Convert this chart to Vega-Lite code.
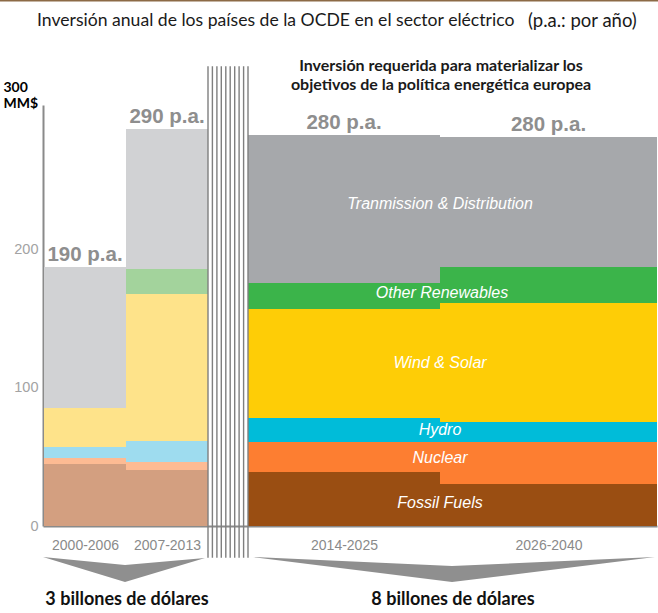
{
  "$schema": "https://vega.github.io/schema/vega-lite/v6.json",
  "width": 614,
  "height": 421,
  "autosize": {"type": "none"},
  "padding": {"left": 43, "top": 105, "right": 1, "bottom": 87},
  "background": "white",
  "title": {
    "text": "Inversión anual de los países de la OCDE en el sector eléctrico",
    "anchor": "start",
    "frame": "group",
    "dx": -6,
    "dy": 40,
    "font": "Lato",
    "fontSize": 17.6,
    "fontWeight": "normal",
    "color": "#1a1a1a",
    "offset": 10
  },
  "config": {"view": {"stroke": null}},
  "datasets": {
    "segmentos": [
      {"periodo": "2000-2006", "fase": "histórico", "tipo": "Fossil Fuels", "orden": 1, "valor": 44.9, "inicio": 1, "fin": 83},
      {"periodo": "2000-2006", "fase": "histórico", "tipo": "Nuclear", "orden": 2, "valor": 4.3, "inicio": 1, "fin": 83},
      {"periodo": "2000-2006", "fase": "histórico", "tipo": "Hydro", "orden": 3, "valor": 8.0, "inicio": 1, "fin": 83},
      {"periodo": "2000-2006", "fase": "histórico", "tipo": "Wind & Solar", "orden": 4, "valor": 28.3, "inicio": 1, "fin": 83},
      {"periodo": "2000-2006", "fase": "histórico", "tipo": "Other Renewables", "orden": 5, "valor": 0, "inicio": 1, "fin": 83},
      {"periodo": "2000-2006", "fase": "histórico", "tipo": "Transmission & Distribution", "orden": 6, "valor": 102.2, "inicio": 1, "fin": 83},
      {"periodo": "2007-2013", "fase": "histórico", "tipo": "Fossil Fuels", "orden": 1, "valor": 40.6, "inicio": 83, "fin": 165},
      {"periodo": "2007-2013", "fase": "histórico", "tipo": "Nuclear", "orden": 2, "valor": 5.8, "inicio": 83, "fin": 165},
      {"periodo": "2007-2013", "fase": "histórico", "tipo": "Hydro", "orden": 3, "valor": 15.2, "inicio": 83, "fin": 165},
      {"periodo": "2007-2013", "fase": "histórico", "tipo": "Wind & Solar", "orden": 4, "valor": 106.5, "inicio": 83, "fin": 165},
      {"periodo": "2007-2013", "fase": "histórico", "tipo": "Other Renewables", "orden": 5, "valor": 18.1, "inicio": 83, "fin": 165},
      {"periodo": "2007-2013", "fase": "histórico", "tipo": "Transmission & Distribution", "orden": 6, "valor": 101.4, "inicio": 83, "fin": 165},
      {"periodo": "2014-2025", "fase": "requerido", "tipo": "Fossil Fuels", "orden": 1, "valor": 39.1, "inicio": 205, "fin": 397},
      {"periodo": "2014-2025", "fase": "requerido", "tipo": "Nuclear", "orden": 2, "valor": 21.7, "inicio": 205, "fin": 397},
      {"periodo": "2014-2025", "fase": "requerido", "tipo": "Hydro", "orden": 3, "valor": 17.4, "inicio": 205, "fin": 397},
      {"periodo": "2014-2025", "fase": "requerido", "tipo": "Wind & Solar", "orden": 4, "valor": 79.0, "inicio": 205, "fin": 397},
      {"periodo": "2014-2025", "fase": "requerido", "tipo": "Other Renewables", "orden": 5, "valor": 18.8, "inicio": 205, "fin": 397},
      {"periodo": "2014-2025", "fase": "requerido", "tipo": "Transmission & Distribution", "orden": 6, "valor": 107.2, "inicio": 205, "fin": 397},
      {"periodo": "2026-2040", "fase": "requerido", "tipo": "Fossil Fuels", "orden": 1, "valor": 30.4, "inicio": 397, "fin": 614},
      {"periodo": "2026-2040", "fase": "requerido", "tipo": "Nuclear", "orden": 2, "valor": 30.4, "inicio": 397, "fin": 614},
      {"periodo": "2026-2040", "fase": "requerido", "tipo": "Hydro", "orden": 3, "valor": 14.5, "inicio": 397, "fin": 614},
      {"periodo": "2026-2040", "fase": "requerido", "tipo": "Wind & Solar", "orden": 4, "valor": 86.2, "inicio": 397, "fin": 614},
      {"periodo": "2026-2040", "fase": "requerido", "tipo": "Other Renewables", "orden": 5, "valor": 26.1, "inicio": 397, "fin": 614},
      {"periodo": "2026-2040", "fase": "requerido", "tipo": "Transmission & Distribution", "orden": 6, "valor": 94.2, "inicio": 397, "fin": 614}
    ],
    "periodos": [
      {"periodo": "2000-2006", "medio": 42, "etiqueta": "190 p.a."},
      {"periodo": "2007-2013", "medio": 124, "etiqueta": "290 p.a."},
      {"periodo": "2014-2025", "medio": 301, "etiqueta": "280 p.a."},
      {"periodo": "2026-2040", "medio": 505.5, "etiqueta": "280 p.a."}
    ],
    "etiquetas": [
      {"etiqueta": "Tranmission & Distribution", "x": 397, "y": 233},
      {"etiqueta": "Other Renewables", "x": 399, "y": 168.8},
      {"etiqueta": "Wind & Solar", "x": 397, "y": 118},
      {"etiqueta": "Hydro", "x": 397, "y": 69.6},
      {"etiqueta": "Nuclear", "x": 397, "y": 49.3},
      {"etiqueta": "Fossil Fuels", "x": 397, "y": 16.7}
    ],
    "separador": [
      {"x": 165}, {"x": 169.4}, {"x": 173.9}, {"x": 178.3}, {"x": 182.8},
      {"x": 187.2}, {"x": 191.7}, {"x": 196.1}, {"x": 200.6}, {"x": 205}
    ],
    "chevrones": [
      {"grupo": "A", "x": 0, "y": -22.5, "y2": -22.5},
      {"grupo": "A", "x": 82, "y": -28.3, "y2": -40.6},
      {"grupo": "A", "x": 162, "y": -23.2, "y2": -23.2},
      {"grupo": "B", "x": 210, "y": -22.5, "y2": -22.5},
      {"grupo": "B", "x": 409, "y": -29.0, "y2": -40.6},
      {"grupo": "B", "x": 612, "y": -22.5, "y2": -22.5}
    ],
    "subtitulo": [
      {"texto": "Inversión requerida para materializar los", "x": 398, "y": 333.3},
      {"texto": "objetivos de la política energética europea", "x": 398, "y": 319.5}
    ],
    "totales_abajo": [
      {"texto": "3 billones de dólares", "x": 84, "y": -53.6},
      {"texto": "8 billones de dólares", "x": 410, "y": -53.6}
    ],
    "nota": [
      {"texto": "(p.a.: por año)", "x": 485, "y": 365.9}
    ],
    "borde": [
      {"x": -43, "x2": 615, "y": 380.6}
    ]
  },
  "layer": [
    {
      "data": {"name": "chevrones"},
      "mark": {"type": "area", "color": "#8f8f8f", "orient": "vertical"},
      "encoding": {
        "x": {
          "field": "x", "type": "quantitative",
          "scale": {"domain": [0, 614], "nice": false, "zero": false},
          "axis": {
            "values": [42, 124, 301, 505.5],
            "labelExpr": "datum.value < 100 ? '2000-2006' : datum.value < 200 ? '2007-2013' : datum.value < 400 ? '2014-2025' : '2026-2040'",
            "title": null, "ticks": false, "grid": false,
            "domainColor": "#8a8a8a", "domainWidth": 2,
            "labelColor": "#8a8a8a", "labelFont": "Liberation Sans", "labelFontSize": 14,
            "labelPadding": 12, "labelFlush": false, "labelOverlap": false
          }
        },
        "y": {
          "field": "y", "type": "quantitative", "stack": null,
          "scale": {"domain": [0, 305], "nice": false},
          "axis": {
            "values": [0, 100, 200], "ticks": false, "grid": false,
            "domainColor": "#8a8a8a", "domainWidth": 2,
            "labelColor": "#a3a3a3", "labelFont": "Liberation Sans", "labelFontSize": 14.5,
            "labelPadding": 5,
            "title": ["300", "MM$"], "titleAngle": 0, "titleX": -40, "titleY": -25,
            "titleAlign": "left", "titleBaseline": "top",
            "titleFont": "Lato", "titleFontWeight": "bold", "titleFontSize": 14,
            "titleColor": "#000000", "titleLineHeight": 16
          }
        },
        "y2": {"field": "y2"},
        "detail": {"field": "grupo"}
      }
    },
    {
      "data": {"name": "segmentos"},
      "transform": [
        {"stack": "valor", "groupby": ["periodo"], "sort": [{"field": "orden", "order": "ascending"}], "as": ["y0", "y1"]},
        {"filter": "datum.fase === 'histórico'"}
      ],
      "mark": {"type": "rect"},
      "encoding": {
        "x": {"field": "inicio", "type": "quantitative"},
        "x2": {"field": "fin"},
        "y": {"field": "y0", "type": "quantitative"},
        "y2": {"field": "y1"},
        "color": {
          "field": "tipo", "type": "nominal", "legend": null,
          "scale": {
            "domain": ["Fossil Fuels", "Nuclear", "Hydro", "Wind & Solar", "Other Renewables", "Transmission & Distribution"],
            "range": ["#d39f80", "#fdbb93", "#9edcef", "#fee38a", "#a3d39c", "#d1d2d4"]
          }
        }
      }
    },
    {
      "data": {"name": "segmentos"},
      "transform": [
        {"stack": "valor", "groupby": ["periodo"], "sort": [{"field": "orden", "order": "ascending"}], "as": ["y0", "y1"]},
        {"filter": "datum.fase === 'requerido'"}
      ],
      "mark": {"type": "rect"},
      "encoding": {
        "x": {"field": "inicio", "type": "quantitative"},
        "x2": {"field": "fin"},
        "y": {"field": "y0", "type": "quantitative"},
        "y2": {"field": "y1"},
        "color": {
          "field": "tipo", "type": "nominal", "legend": null,
          "scale": {
            "domain": ["Fossil Fuels", "Nuclear", "Hydro", "Wind & Solar", "Other Renewables", "Transmission & Distribution"],
            "range": ["#9a4e12", "#fd7e31", "#00bcd9", "#fecd06", "#3bb44a", "#a6a8ab"]
          }
        }
      }
    },
    {
      "data": {"name": "separador"},
      "mark": {"type": "rule", "color": "#7f7f7f", "strokeWidth": 1.4},
      "encoding": {
        "x": {"field": "x", "type": "quantitative"},
        "y": {"datum": 333},
        "y2": {"datum": -23}
      }
    },
    {
      "data": {"name": "borde"},
      "mark": {"type": "rule", "color": "#8c6a46", "strokeWidth": 1.5},
      "encoding": {
        "x": {"field": "x", "type": "quantitative"},
        "x2": {"field": "x2"},
        "y": {"field": "y", "type": "quantitative"}
      }
    },
    {
      "data": {"name": "segmentos"},
      "transform": [
        {"aggregate": [{"op": "sum", "field": "valor", "as": "total"}], "groupby": ["periodo"]},
        {"lookup": "periodo", "from": {"data": {"name": "periodos"}, "key": "periodo", "fields": ["medio", "etiqueta"]}}
      ],
      "mark": {"type": "text", "font": "Liberation Sans", "fontWeight": "bold", "fontSize": 20.5, "color": "#8e8e8e", "baseline": "alphabetic", "align": "center", "dy": -6},
      "encoding": {
        "x": {"field": "medio", "type": "quantitative"},
        "y": {"field": "total", "type": "quantitative"},
        "text": {"field": "etiqueta"}
      }
    },
    {
      "data": {"name": "etiquetas"},
      "mark": {"type": "text", "font": "Liberation Sans", "fontStyle": "italic", "fontSize": 16, "color": "#ffffff", "baseline": "middle", "align": "center"},
      "encoding": {
        "x": {"field": "x", "type": "quantitative"},
        "y": {"field": "y", "type": "quantitative"},
        "text": {"field": "etiqueta"}
      }
    },
    {
      "data": {"name": "subtitulo"},
      "mark": {"type": "text", "font": "Lato", "fontSize": 16, "fontWeight": "bold", "color": "#1a1a1a", "baseline": "middle", "align": "center"},
      "encoding": {
        "x": {"field": "x", "type": "quantitative"},
        "y": {"field": "y", "type": "quantitative"},
        "text": {"field": "texto"}
      }
    },
    {
      "data": {"name": "totales_abajo"},
      "mark": {"type": "text", "font": "Lato", "fontSize": 18, "fontWeight": "bold", "color": "#111111", "baseline": "middle", "align": "center"},
      "encoding": {
        "x": {"field": "x", "type": "quantitative"},
        "y": {"field": "y", "type": "quantitative"},
        "text": {"field": "texto"}
      }
    },
    {
      "data": {"name": "nota"},
      "mark": {"type": "text", "font": "Lato", "fontSize": 18.5, "color": "#1a1a1a", "baseline": "middle", "align": "left"},
      "encoding": {
        "x": {"field": "x", "type": "quantitative"},
        "y": {"field": "y", "type": "quantitative"},
        "text": {"field": "texto"}
      }
    }
  ],
  "resolve": {"scale": {"color": "independent"}}
}
